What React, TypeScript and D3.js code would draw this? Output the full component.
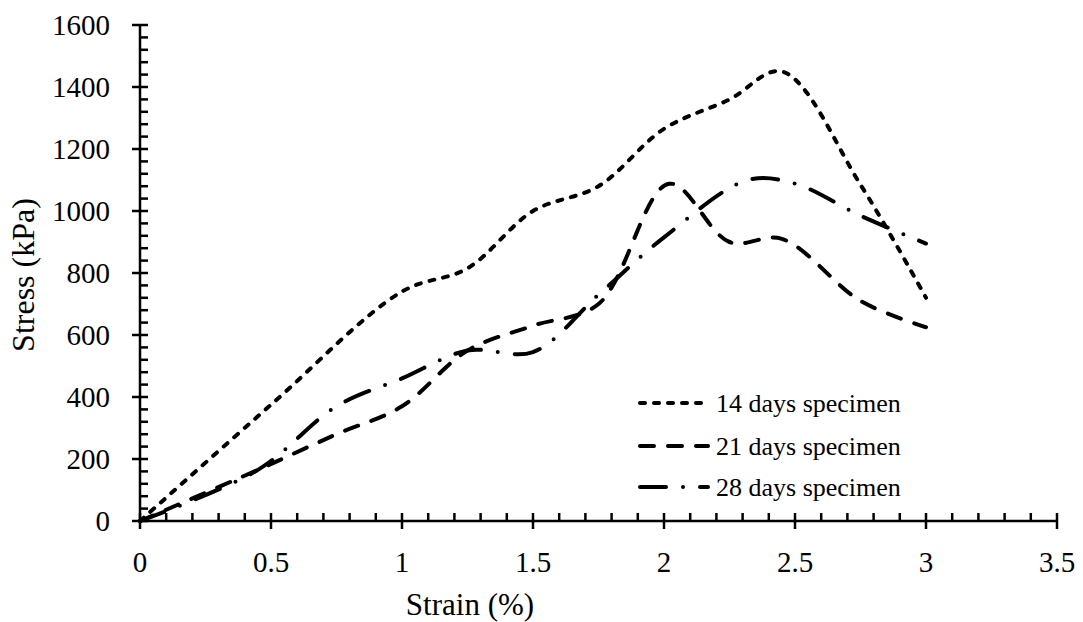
import React from "react";
import * as d3 from "d3";

const strain14 = [0, 0.5, 1.0, 1.25, 1.5, 1.75, 2.0, 2.25, 2.45, 2.75, 3.0];
const stress14 = [0, 375, 740, 815, 1000, 1080, 1265, 1360, 1450, 1085, 720];

const strain21 = [0, 0.45, 0.75, 1.0, 1.25, 1.5, 1.75, 2.02, 2.25, 2.45, 2.75, 3.0];
const stress21 = [0, 165, 280, 370, 550, 630, 700, 1088, 900, 910, 710, 625];

const strain28 = [0, 0.45, 0.75, 1.0, 1.25, 1.5, 1.75, 2.0, 2.32, 2.5, 2.75, 3.0];
const stress28 = [0, 165, 370, 460, 550, 545, 730, 915, 1100, 1088, 985, 895];

const seriesNames = ["14 days specimen", "21 days specimen", "28 days specimen"];
const xTicks = [0, 0.5, 1, 1.5, 2, 2.5, 3, 3.5];
const yTicks = [0, 200, 400, 600, 800, 1000, 1200, 1400, 1600];

const W = 1083;
const H = 622;
const FONT = "'Liberation Serif', 'Times New Roman', serif";

export default function App() {
  const x = d3.scaleLinear().domain([0, 3.5]).range([140, 1057]);
  const y = d3.scaleLinear().domain([0, 1600]).range([521, 25]);
  const line = d3
    .line<[number, number]>()
    .x((d) => x(d[0]))
    .y((d) => y(d[1]))
    .curve(d3.curveCatmullRom.alpha(0.5));

  const series = [
    { xs: strain14, ys: stress14, dash: "5 9" },
    { xs: strain21, ys: stress21, dash: "14 14" },
    { xs: strain28, ys: stress28, dash: "26 17 0 17" },
  ];

  const xMinor = d3.range(0, 3.5001, 0.1).filter((v) => Math.abs(v * 2 - Math.round(v * 2)) > 1e-6);
  const yMinor = d3.range(0, 1600.1, 40).filter((v) => v % 200 !== 0);

  const legendX0 = 638;
  const legendX1 = 708;
  const legendYs = [403, 446, 487];

  return (
    <svg
      width={W}
      height={H}
      style={{ position: "absolute", left: 0, top: 0, background: "#fff" }}
      fontFamily={FONT}
    >
      <rect x={0} y={0} width={W} height={H} fill="#fff" />
      {series.map((s, i) => (
        <path
          key={i}
          d={line(s.xs.map((v, j) => [v, s.ys[j]] as [number, number])) || ""}
          fill="none"
          stroke="#000"
          strokeWidth={4}
          strokeLinecap="round"
          strokeDasharray={s.dash}
        />
      ))}
      <line x1={x(0)} x2={x(3.5)} y1={y(0)} y2={y(0)} stroke="#000" strokeWidth={2.5} />
      <line x1={x(0)} x2={x(0)} y1={y(0)} y2={y(1600)} stroke="#000" strokeWidth={2.5} />
      {xTicks.map((t) => (
        <g key={"xt" + t}>
          <line x1={x(t)} x2={x(t)} y1={y(0) - 8} y2={y(0) + 8} stroke="#000" strokeWidth={2.5} />
          <text x={x(t)} y={572} textAnchor="middle" fontSize={29} fill="#000">
            {t}
          </text>
        </g>
      ))}
      {xMinor.map((t) => (
        <line key={"xm" + t} x1={x(t)} x2={x(t)} y1={y(0) - 8} y2={y(0)} stroke="#000" strokeWidth={2.5} />
      ))}
      {yTicks.map((t) => (
        <g key={"yt" + t}>
          <line x1={x(0) - 8} x2={x(0) + 8} y1={y(t)} y2={y(t)} stroke="#000" strokeWidth={2.5} />
          <text x={110} y={y(t) + 10} textAnchor="end" fontSize={29} fill="#000">
            {t}
          </text>
        </g>
      ))}
      {yMinor.map((t) => (
        <line key={"ym" + t} x1={x(0)} x2={x(0) + 8} y1={y(t)} y2={y(t)} stroke="#000" strokeWidth={2.5} />
      ))}
      <text x={470} y={615} textAnchor="middle" fontSize={31} fill="#000">
        Strain (%)
      </text>
      <text
        transform={`translate(34, 275) rotate(-90)`}
        textAnchor="middle"
        fontSize={32}
        fill="#000"
      >
        Stress (kPa)
      </text>
      {seriesNames.map((name, i) => (
        <g key={name}>
          <line
            x1={legendX0 + 2}
            x2={legendX1}
            y1={legendYs[i]}
            y2={legendYs[i]}
            stroke="#000"
            strokeWidth={4}
            strokeLinecap="round"
            strokeDasharray={series[i].dash}
          />
          <text x={716} y={legendYs[i] + 9} fontSize={26} fill="#000">
            {name}
          </text>
        </g>
      ))}
    </svg>
  );
}
